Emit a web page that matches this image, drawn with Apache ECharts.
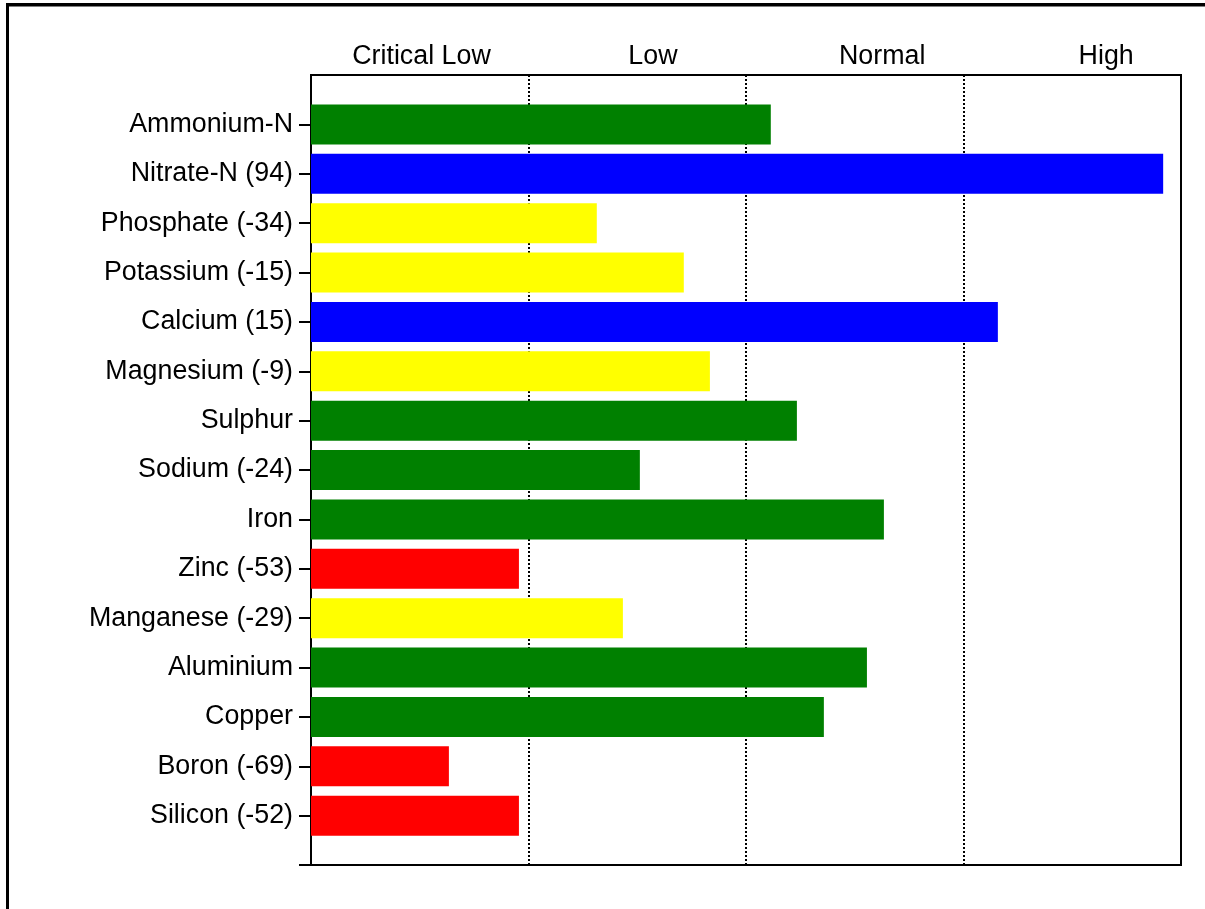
<!DOCTYPE html>
<html>
<head>
<meta charset="utf-8">
<script src="https://cdn.jsdelivr.net/npm/echarts@6/dist/echarts.min.js"></script>
<style>
html,body{margin:0;padding:0;background:#fff;}
#chart{width:1205px;height:909px;}
</style>
</head>
<body>
<div id="chart"></div>
<script>
// Data
const nutrients = ['Ammonium-N','Nitrate-N (94)','Phosphate (-34)','Potassium (-15)','Calcium (15)','Magnesium (-9)','Sulphur','Sodium (-24)','Iron','Zinc (-53)','Manganese (-29)','Aluminium','Copper','Boron (-69)','Silicon (-52)'];
const levels = [105.7, 195.9, 65.7, 85.7, 157.9, 91.7, 111.7, 75.6, 131.7, 47.8, 71.7, 127.8, 117.9, 31.7, 47.8];
const status = ['ok','high','low','low','high','low','ok','ok','ok','critical','low','ok','ok','critical','critical'];
const zoneLabels = ['Critical Low','Low','Normal','High'];
const zoneLabelPos = [25.4, 78.6, 131.3, 182.8];
const zoneBounds = [0, 50, 100, 150, 200];

const colorMap = {ok:'#008000', high:'#0000ff', low:'#ffff00', critical:'#ff0000'};

const cats = [''].concat(nutrients).concat(['']);
const barData = ['-'].concat(levels.map((v,i)=>({value:v, itemStyle:{color:colorMap[status[i]]}}))).concat(['-']);

const chart = echarts.init(document.getElementById('chart'), null, {renderer:'canvas'});
const font = 'Arial, "Liberation Sans", sans-serif';
chart.setOption({
  animation:false,
  backgroundColor:'#fff',
  graphic:[
    {type:'rect', shape:{x:6,y:3,width:1199,height:3.5}, style:{fill:'#000'}},
    {type:'rect', shape:{x:6,y:3,width:3,height:906}, style:{fill:'#000'}}
  ],
  grid:{left:311, top:75, right:24, bottom:44, show:true, borderColor:'#000', borderWidth:2, backgroundColor:'transparent'},
  xAxis:[
    {type:'value', min:zoneBounds[0], max:zoneBounds[4], interval:zoneBounds[1]-zoneBounds[0], position:'bottom',
     axisLine:{show:true, lineStyle:{color:'#000', width:2}},
     axisTick:{show:false}, axisLabel:{show:false},
     splitLine:{show:true, lineStyle:{color:'#000', type:[2,2], width:2}}},
    {type:'value', min:zoneBounds[0], max:zoneBounds[4], position:'top',
     axisLine:{show:true, lineStyle:{color:'#000', width:2}},
     axisTick:{show:false}, splitLine:{show:false},
     axisLabel:{show:true, customValues:zoneLabelPos, margin:5, color:'#000', fontSize:26.8, fontFamily:font,
       formatter:function(v){ const i = zoneLabelPos.indexOf(v); return i>=0 ? zoneLabels[i] : ''; }}}
  ],
  yAxis:{type:'category', data:cats, inverse:true, boundaryGap:false,
    axisLine:{show:true, lineStyle:{color:'#000', width:2}},
    axisTick:{show:true, length:12, lineStyle:{color:'#000', width:2}, interval:function(i){return i!==0;}},
    axisLabel:{interval:0, margin:18, color:'#000', fontSize:26.8, fontFamily:font},
    splitLine:{show:false}},
  series:[{type:'bar', xAxisIndex:0, data:barData, barWidth:40}]
});
</script>
</body>
</html>
